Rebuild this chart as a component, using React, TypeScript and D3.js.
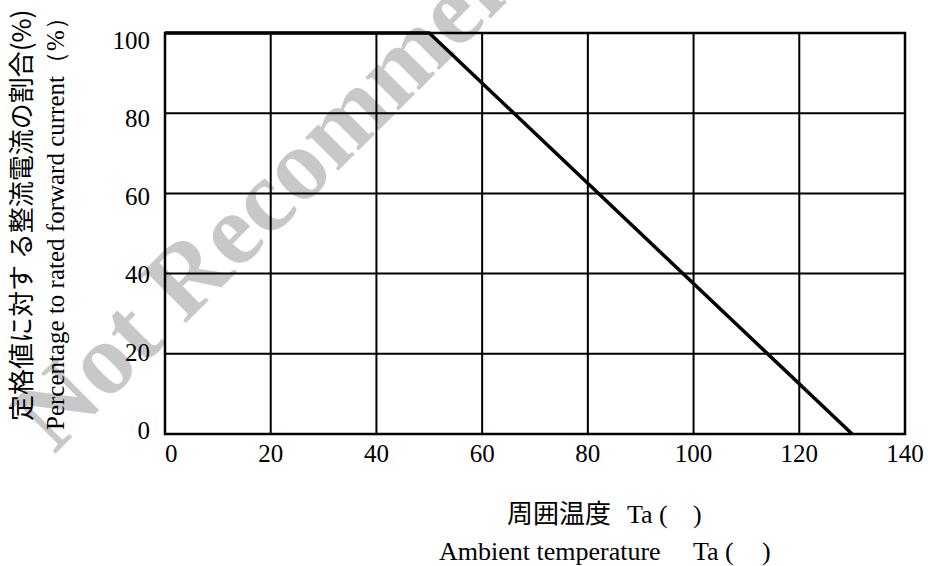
import React from "react";
import * as d3 from "d3";

const temperatures = [0, 50, 130];
const percentages = [100, 100, 0];
const xTicks = [0, 20, 40, 60, 80, 100, 120, 140];
const yTicks = [0, 20, 40, 60, 80, 100];
const yTitleJa = "定格値に対す る整流電流の割合(%)";
const yTitleEn = "Percentage to rated forward current（%）";
const xTitleJa = "周囲温度";
const xTitleEn = "Ambient temperature";
const unitLabel = "Ta (";
const watermark = "Not Recommended";

const W = 928;
const H = 566;

export default function App() {
  const x = d3.scaleLinear().domain([0, 140]).range([165, 905]);
  const y = d3.scaleLinear().domain([0, 100]).range([434, 33]);
  const yLab = d3.scaleLinear().domain([0, 100]).range([430.5, 40]);
  const pts = temperatures.map((t, i) => [t, percentages[i]] as [number, number]);
  const line = d3
    .line<[number, number]>()
    .x((d) => x(d[0]))
    .y((d) => y(d[1]));
  const serif = "Liberation Serif, Times New Roman, Tinos, DejaVu Serif, serif";
  const cjk = "Noto Sans CJK JP, Noto Sans, sans-serif";
  const serifStyle = { fontFamily: serif } as React.CSSProperties;
  const cjkStyle = { fontFamily: cjk } as React.CSSProperties;
  return (
    <svg
      width={W}
      height={H}
      style={{ position: "absolute", left: 0, top: 0, background: "#fff" }}
    >
      <rect x={0} y={0} width={W} height={H} fill="#fff" />
      <text
        transform="translate(54,455) rotate(-45)"
        style={serifStyle}
        fontWeight="bold"
        fontSize={102}
        fill="#c8c8c8"
      >
        {watermark}
      </text>
      {xTicks.map((t) => (
        <line
          key={"gx" + t}
          x1={x(t)}
          x2={x(t)}
          y1={y(0)}
          y2={y(100)}
          stroke="#000"
          strokeWidth={2}
        />
      ))}
      {yTicks.map((t) => (
        <line
          key={"gy" + t}
          x1={x(0)}
          x2={x(140)}
          y1={y(t)}
          y2={y(t)}
          stroke="#000"
          strokeWidth={2}
        />
      ))}
      <rect
        x={x(0)}
        y={y(100)}
        width={x(140) - x(0)}
        height={y(0) - y(100)}
        fill="none"
        stroke="#000"
        strokeWidth={2.5}
      />
      <path
        d={line(pts) || ""}
        fill="none"
        stroke="#000"
        strokeWidth={3.5}
        strokeLinejoin="miter"
      />
      {yTicks.map((t) => (
        <text
          key={"ly" + t}
          x={150}
          y={yLab(t)}
          dy="0.34em"
          textAnchor="end"
          style={serifStyle}
          fontSize={25}
          fill="#000"
        >
          {t}
        </text>
      ))}
      {xTicks.map((t, i) => (
        <text
          key={"lx" + t}
          x={x(t)}
          y={462}
          textAnchor={i === 0 ? "start" : "middle"}
          style={serifStyle}
          fontSize={25}
          fill="#000"
        >
          {t}
        </text>
      ))}
      <text
        transform="translate(31,421) rotate(-90)"
        style={{ ...cjkStyle, whiteSpace: "pre" }}
        fontSize={26}
        fill="#000"
      >
        {yTitleJa}
      </text>
      <text
        transform="translate(63.5,430) rotate(-90)"
        style={{ ...serifStyle, whiteSpace: "pre" }}
        fontSize={25}
        fill="#000"
      >
        {yTitleEn}
      </text>
      <text x={507} y={523} style={cjkStyle} fontSize={26} fill="#000">
        {xTitleJa}
      </text>
      <text x={627} y={523} style={serifStyle} fontSize={26} fill="#000">
        {unitLabel}
      </text>
      <text x={693} y={523} style={serifStyle} fontSize={26} fill="#000">
        )
      </text>
      <text x={439} y={560} style={serifStyle} fontSize={26} fill="#000">
        {xTitleEn}
      </text>
      <text x={693} y={560} style={serifStyle} fontSize={26} fill="#000">
        {unitLabel}
      </text>
      <text x={762} y={560} style={serifStyle} fontSize={26} fill="#000">
        )
      </text>
    </svg>
  );
}
